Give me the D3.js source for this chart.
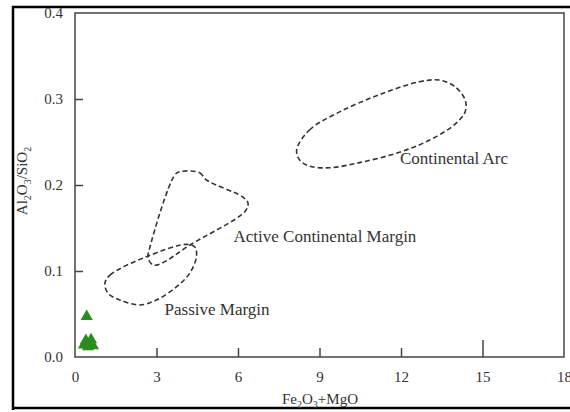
<!DOCTYPE html>
<html>
<head>
<meta charset="utf-8">
<script src="https://cdn.jsdelivr.net/npm/d3@7"></script>
<style>
  html, body { margin: 0; padding: 0; background: #fff; }
  svg { display: block; }
  svg text { font-family: "Liberation Serif", "Times New Roman", Times, serif !important; fill: #333; }
</style>
</head>
<body>
<svg id="chart" width="570" height="412"></svg>
<script>
// Axis ticks
const xTicks = [0, 3, 6, 9, 12, 15, 18];
const yTicks = [0.0, 0.1, 0.2, 0.3, 0.4];

// Sample points: Fe2O3+MgO vs Al2O3/SiO2
const sampleX = [0.43, 0.33, 0.40, 0.59, 0.66, 0.48];
const sampleY = [0.047, 0.014, 0.019, 0.020, 0.013, 0.012];

// Tectonic setting fields (outline vertices, [Fe2O3+MgO, Al2O3/SiO2])
const continentalArc = [
  [8.16, 0.241], [8.63, 0.264], [9.74, 0.285], [11.2, 0.305], [12.67, 0.320],
  [13.41, 0.322], [13.96, 0.315], [14.36, 0.299], [14.36, 0.285], [13.96, 0.270],
  [13.04, 0.252], [11.94, 0.238], [10.47, 0.226], [9.37, 0.220], [8.63, 0.222],
  [8.27, 0.229]
];
const activeMargin = [
  [3.86, 0.2155], [4.59, 0.2143], [4.84, 0.2058], [6.18, 0.186], [6.37, 0.1787],
  [6.25, 0.169], [4.22, 0.130], [3.19, 0.109], [2.88, 0.107], [2.69, 0.1148],
  [2.76, 0.128], [3.67, 0.2116]
];
const passiveMargin = [
  [1.10, 0.0857], [1.29, 0.0953], [2.63, 0.1166], [4.10, 0.131], [4.41, 0.128],
  [4.47, 0.1166], [4.22, 0.0973], [3.74, 0.0817], [3.00, 0.0663], [2.39, 0.0605],
  [1.65, 0.0663], [1.22, 0.074]
];
const fieldLabels = ["Continental Arc", "Active Continental Margin", "Passive Margin"];
const fieldLabelPos = [[13.95, 0.225], [9.2, 0.134], [5.23, 0.049]];

const svg = d3.select("#chart");
const plotLeft = 75, plotRight = 564, plotTop = 13, plotBottom = 357;
const serif = "'Liberation Serif', 'Times New Roman', serif";

const x = d3.scaleLinear().domain([0, 18]).range([plotLeft, plotRight]);
const y = d3.scaleLinear().domain([0, 0.4]).range([plotBottom, plotTop]);

// Outer frame
svg.append("path")
  .attr("d", `M13,410 L13,7 L570,7 M13,408 L570,408`)
  .attr("fill", "none").attr("stroke", "#000").attr("stroke-width", 2.5);

// Plot box
svg.append("rect")
  .attr("x", plotLeft).attr("y", plotTop)
  .attr("width", plotRight - plotLeft).attr("height", plotBottom - plotTop)
  .attr("fill", "none").attr("stroke", "#444").attr("stroke-width", 1.5);

// X axis: ticks point inward
const xAxis = svg.append("g").attr("transform", `translate(0,${plotBottom})`);
xAxis.call(d3.axisBottom(x).tickValues(xTicks).tickFormat(d3.format("d")).tickSize(0).tickPadding(14));
xAxis.attr("font-family", serif).attr("font-size", 15);
xAxis.select(".domain").remove();
xAxis.selectAll(".tick text").attr("fill", "#333");
xAxis.selectAll(".tick").filter(d => d > 0 && d < 18).append("line")
  .attr("y1", 0).attr("y2", d => d === 15 ? -17 : -9)
  .attr("stroke", "#444").attr("stroke-width", 1.5);

// Y axis
const yAxis = svg.append("g").attr("transform", `translate(${plotLeft},0)`);
yAxis.call(d3.axisLeft(y).tickValues(yTicks).tickFormat(d3.format(".1f")).tickSize(0).tickPadding(12));
yAxis.attr("font-family", serif).attr("font-size", 15);
yAxis.select(".domain").remove();
yAxis.selectAll(".tick text").attr("fill", "#333");
yAxis.selectAll(".tick").filter(d => d > 0 && d < 0.4).append("line")
  .attr("x1", 0).attr("x2", 8)
  .attr("stroke", "#444").attr("stroke-width", 1.5);

// Field outlines
const outline = d3.line().x(d => x(d[0])).y(d => y(d[1])).curve(d3.curveCatmullRomClosed.alpha(0.5));
[continentalArc, activeMargin, passiveMargin].forEach(f => {
  svg.append("path")
    .attr("d", outline(f))
    .attr("fill", "none").attr("stroke", "#333").attr("stroke-width", 1.6)
    .attr("stroke-dasharray", "5,3");
});

// Field names
fieldLabels.forEach((t, i) => {
  svg.append("text")
    .attr("x", x(fieldLabelPos[i][0])).attr("y", y(fieldLabelPos[i][1]))
    .attr("text-anchor", "middle")
    .attr("font-family", serif).attr("font-size", 17).text(t);
});

// Samples
const tri = d3.symbol().type(d3.symbolTriangle).size(65);
svg.append("g").selectAll("path").data(sampleX).join("path")
  .attr("d", tri)
  .attr("transform", (d, i) => `translate(${x(d)},${y(sampleY[i])})`)
  .attr("fill", "#2b8c1f");

// Axis titles with subscripts
function formula(sel, parts) {
  parts.forEach(p => {
    if (p.sub) {
      sel.append("tspan").attr("dy", 4).attr("font-size", 10).text(p.t);
    } else {
      sel.append("tspan").attr("dy", p.after ? -4 : 0).text(p.t);
    }
  });
}
const xt = svg.append("text").attr("x", 320).attr("y", 404).attr("text-anchor", "middle")
  .attr("font-family", serif).attr("font-size", 15);
formula(xt, [{t: "Fe"}, {t: "2", sub: true}, {t: "O", after: true}, {t: "3", sub: true}, {t: "+MgO", after: true}]);

const yt = svg.append("text").attr("transform", "translate(27,181) rotate(-90)")
  .attr("text-anchor", "middle").attr("font-family", serif).attr("font-size", 15);
formula(yt, [{t: "Al"}, {t: "2", sub: true}, {t: "O", after: true}, {t: "3", sub: true}, {t: "/SiO", after: true}, {t: "2", sub: true}]);
</script>
</body>
</html>
